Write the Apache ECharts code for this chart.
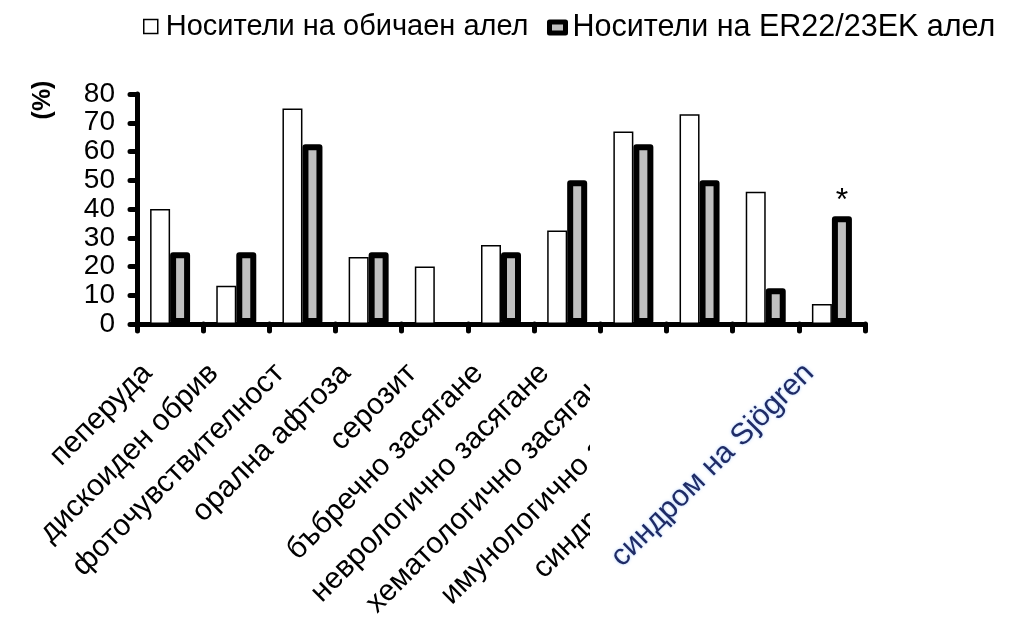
<!DOCTYPE html>
<html>
<head>
<meta charset="utf-8">
<script src="https://cdn.jsdelivr.net/npm/echarts@6/dist/echarts.min.js"></script>
<style>
  html, body { margin: 0; padding: 0; background: #fff; }
  #chart { width: 1022px; height: 621px; }
</style>
</head>
<body>
<div id="chart"></div>
<script>
// Clinical manifestations, % of patients in each genotype group
const categories = [
  'пеперуда',
  'дискоиден обрив',
  'фоточувствителност',
  'орална афтоза',
  'серозит',
  'бъбречно засягане',
  'неврологично засягане',
  'хематологично засягане',
  'имунологично засягане',
  'синдром на Raynaud',
  'синдром на Sjögren'
];
const seriesNames = ['Носители на обичаен алел', 'Носители на ER22/23EK алел'];
const commonAllele = [40, 13.3, 75, 23.3, 20, 27.5, 32.5, 67, 73, 46, 7];
const er2223ekAllele = [25, 25, 62.5, 25, 0, 25, 50, 62.5, 50, 12.5, 37.5];
const significance = ['', '', '', '', '', '', '', '', '', '', '*'];
const yTicks = { min: 0, max: 80, step: 10 };
const yAxisTitle = '(%)';

const FONT = '"Liberation Sans", Arial, sans-serif';
const LABEL_MARGIN = 22;
const LABEL_PAD = 32;
const LABEL_SIZE = 30;
const lastIdx = categories.length - 1;

const chart = echarts.init(document.getElementById('chart'), null, { renderer: 'canvas' });

const option = {
  backgroundColor: '#ffffff',
  animation: false,
  textStyle: { fontFamily: FONT, color: '#000' },
  legend: [
    {
      left: 143, top: 12, padding: 0,
      itemWidth: 14, itemHeight: 14,
      textStyle: { fontFamily: FONT, fontSize: 29, color: '#000', padding: [0, 0, 0, 3] },
      data: [{ name: seriesNames[0], icon: 'rect',
               itemStyle: { color: '#fff', borderColor: '#000', borderWidth: 1.5 } }]
    },
    {
      left: 547, top: 12, padding: 0,
      itemWidth: 16, itemHeight: 11,
      textStyle: { fontFamily: FONT, fontSize: 30.5, color: '#000', padding: [0, 0, 0, 2] },
      data: [{ name: seriesNames[1], icon: 'rect',
               itemStyle: { color: '#c0c0c0', borderColor: '#000', borderWidth: 5 } }]
    }
  ],
  grid: { left: 137, top: 94, width: 728, height: 235, containLabel: false },
  xAxis: {
    type: 'category',
    data: categories,
    boundaryGap: true,
    axisLine: { show: true, lineStyle: { color: '#000', width: 5, cap: 'round' } },
    axisTick: { show: true, inside: false, length: 7, lineStyle: { color: '#000', width: 5, cap: 'round' } },
    axisLabel: {
      interval: 0,
      rotate: 45,
      margin: LABEL_MARGIN,
      fontFamily: FONT,
      fontSize: LABEL_SIZE,
      color: '#000',
      padding: [0, LABEL_PAD, 0, 0],
      formatter: (v, i) => (i === lastIdx ? '' : v)
    },
    splitLine: { show: false }
  },
  yAxis: {
    type: 'value',
    min: yTicks.min,
    max: yTicks.max,
    interval: yTicks.step,
    axisLine: { show: true, lineStyle: { color: '#000', width: 5, cap: 'round' } },
    axisTick: { show: true, inside: false, length: 7, lineStyle: { color: '#000', width: 5, cap: 'round' } },
    axisLabel: { margin: 22, fontFamily: FONT, fontSize: 28, color: '#000' },
    splitLine: { show: false }
  },
  series: [
    {
      name: seriesNames[0],
      type: 'bar',
      barWidth: 20,
      barGap: '0%',
      data: commonAllele,
      itemStyle: { color: '#ffffff', borderColor: '#000', borderWidth: 1.5 }
    },
    {
      name: seriesNames[1],
      type: 'bar',
      barWidth: 20,
      barGap: '0%',
      data: er2223ekAllele.map(v => (v === 0 ? { value: v, itemStyle: { borderWidth: 0 } } : v)),
      itemStyle: { color: '#c0c0c0', borderColor: '#000', borderWidth: 6, borderJoin: 'round' },
      label: {
        show: true,
        position: 'top',
        distance: -1,
        fontFamily: FONT,
        fontSize: 32,
        color: '#000',
        formatter: p => significance[p.dataIndex]
      }
    }
  ]
};

chart.setOption(option);

// Y-axis title, the white panel below the right part of the axis, and the last category label
const base = chart.convertToPixel({ yAxisIndex: 0 }, 0);
const cx = chart.convertToPixel({ xAxisIndex: 0 }, lastIdx);
const shift = LABEL_PAD * Math.SQRT1_2;

chart.setOption({
  graphic: [
    {
      type: 'text',
      x: 43, y: 100,
      rotation: Math.PI / 2,
      style: {
        text: yAxisTitle,
        font: 'bold 25px ' + FONT,
        fill: '#000',
        align: 'center',
        verticalAlign: 'middle'
      }
    },
    {
      type: 'rect',
      z: 100,
      shape: { x: 590, y: 342, width: 432, height: 279 },
      style: { fill: '#ffffff' }
    },
    {
      type: 'text',
      z: 101,
      x: cx - shift,
      y: base + LABEL_MARGIN + shift,
      rotation: Math.PI / 4,
      style: {
        text: categories[lastIdx],
        font: LABEL_SIZE + 'px ' + FONT,
        fill: '#1f2b66',
        align: 'right',
        verticalAlign: 'middle',
        textShadowColor: 'rgba(90,160,255,0.5)',
        textShadowBlur: 3
      }
    }
  ]
});
</script>
</body>
</html>
